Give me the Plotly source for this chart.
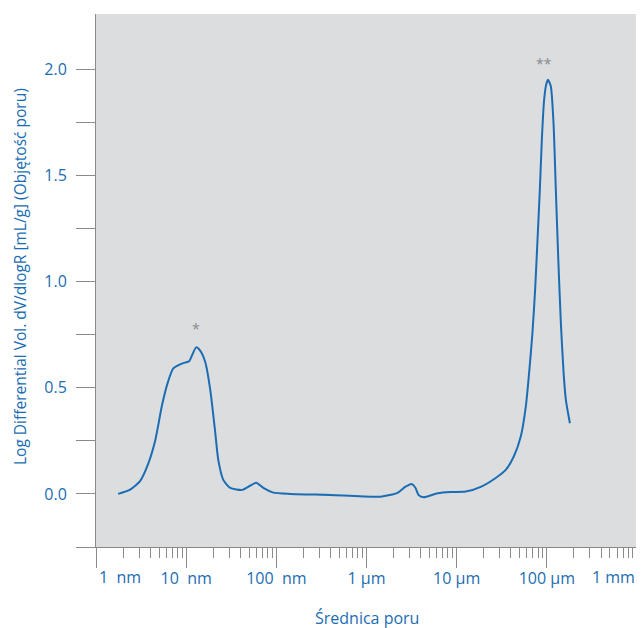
import numpy as np
import plotly.graph_objects as go

# Pore diameter (nm) and log differential volume dV/dlogR (mL/g)
diameter_nm = [1.76, 2.39, 3.08, 3.78, 4.53, 5.41, 6.31, 7.17, 8.58, 10.0, 10.8, 11.7,
               12.9, 14.3, 16.3, 18.5, 21.0, 22.7, 25.8, 30.8, 41.9, 48.8, 59.9, 71.7,
               92.6, 143, 398, 1430, 2210, 2710, 3160, 3500, 3780, 4300, 6150, 8580,
               12600, 18500, 27100, 35000, 43000, 51400, 58400, 63600, 69300, 74100,
               78800, 83600, 88000, 93300, 98700, 103300, 110700, 118600, 125900,
               133600, 143100, 153400, 162600, 180300]
dvdlogr = [0.0, 0.02, 0.06, 0.14, 0.25, 0.42, 0.53, 0.59, 0.61, 0.62, 0.625, 0.655,
           0.69, 0.675, 0.62, 0.49, 0.29, 0.16, 0.066, 0.028, 0.019, 0.033, 0.053, 0.028,
           0.006, 0.0, -0.005, -0.013, 0.005, 0.034, 0.047, 0.028, -0.005, -0.016, 0.003, 0.009,
           0.011, 0.033, 0.075, 0.113, 0.176, 0.27, 0.41, 0.57, 0.76, 0.96,
           1.196, 1.43, 1.667, 1.855, 1.93, 1.95, 1.92, 1.747, 1.43,
           1.118, 0.805, 0.57, 0.443, 0.333]

x_tick_vals = [1, 10, 100, 1000, 10000, 100000, 1000000]
x_tick_text = ["", "10  nm", "100  nm", "1 µm", "10 µm", "100 µm", ""]
x_end_labels = [(1, "1  nm", "left"), (1000000, "1 mm", "right")]
y_tick_vals = [-0.25, 0.0, 0.25, 0.5, 0.75, 1.0, 1.25, 1.5, 1.75, 2.0]
y_tick_text = ["", "0.0", "", "0.5", "", "1.0", "", "1.5", "", "2.0"]

x_title = "Średnica poru"
y_title = "Log Differential Vol. dV/dlogR [mL/g] (Objętość poru)"

peak_marks = [(12.9, 0.78, "*"), (93300, 2.025, "**")]

blue = "#1b6db3"
axis_gray = "#8a8a8a"
font_family = "Open Sans, Noto Sans, sans-serif"

# page has an 8px body margin; figure is sized to fill the rest
OFF = 8
W, H = 644 - OFF, 628 - OFF
L, R, T, B = 96 - OFF, 7, 14 - OFF, 81
pw, ph = W - L - R, H - T - B
axis_y = 547  # page px of x-axis line

minor_vals = [m * 10 ** d for d in range(0, 6) for m in range(2, 10)]

fig = go.Figure()
fig.add_trace(go.Scatter(
    x=diameter_nm, y=dvdlogr, mode="lines",
    line=dict(color=blue, width=2, shape="spline", smoothing=0.6),
    hoverinfo="skip", showlegend=False,
))

for xv, yv, txt in peak_marks:
    fig.add_annotation(x=np.log10(xv), y=yv, text=txt, showarrow=False,
                       font=dict(color="#8a8a8a", size=14, family=font_family))

for xv, txt, anchor in x_end_labels:
    fig.add_annotation(x=np.log10(xv), xref="x", y=(axis_y - 577) / ph, yref="paper",
                       text=txt, showarrow=False, xanchor=anchor, yanchor="middle",
                       xshift=(1 if anchor == "left" else 0),
                       font=dict(color=blue, size=16, family=font_family))

fig.add_annotation(x=0.5, xref="paper", y=(axis_y - 618) / ph, yref="paper",
                   text=x_title, showarrow=False, xanchor="center", yanchor="middle",
                   font=dict(color=blue, size=16, family=font_family))
fig.add_annotation(x=(20 - 96) / pw, xref="paper", y=(axis_y - 277) / ph, yref="paper",
                   text=y_title, showarrow=False, textangle=-90,
                   xanchor="center", yanchor="middle",
                   font=dict(color=blue, size=15.5, family=font_family))

fig.update_layout(
    width=W, height=H,
    margin=dict(l=L, r=R, t=T, b=B, autoexpand=False),
    paper_bgcolor="white",
    plot_bgcolor="#dcdddf",
    font=dict(family=font_family, color=blue, size=16),
    xaxis=dict(
        type="log", range=[0, 6], automargin=False,
        tickvals=x_tick_vals, ticktext=x_tick_text,
        ticks="outside", ticklen=20, tickwidth=1, tickcolor=axis_gray,
        showline=True, linecolor=axis_gray, linewidth=1,
        showgrid=False, zeroline=False,
        tickfont=dict(size=16, color=blue),
        ticklabelstandoff=-3,
        minor=dict(tickvals=minor_vals, ticks="outside", ticklen=10,
                   tickwidth=1, tickcolor=axis_gray, showgrid=False),
    ),
    yaxis=dict(
        range=[-0.25, 2.26], automargin=False,
        tickvals=y_tick_vals, ticktext=y_tick_text,
        ticks="outside", ticklen=19, tickwidth=1, tickcolor=axis_gray,
        showline=True, linecolor=axis_gray, linewidth=1,
        showgrid=False, zeroline=False,
        tickfont=dict(size=16, color=blue),
        ticklabelstandoff=6,
    ),
)

fig.write_html("out.html")
